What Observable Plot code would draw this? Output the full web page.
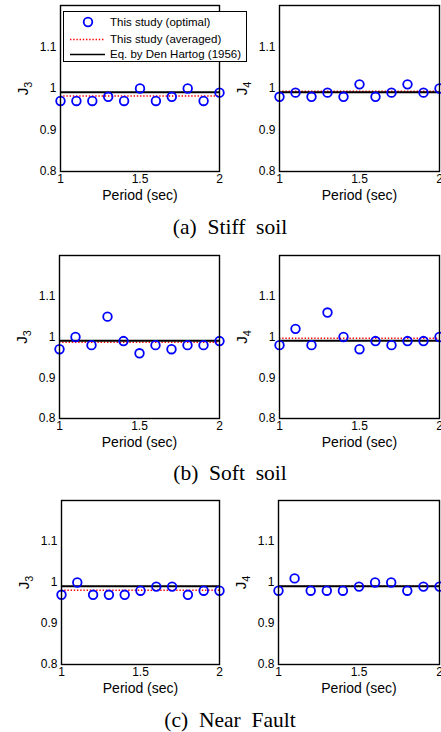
<!DOCTYPE html>
<html>
<head>
<meta charset="utf-8">
<script src="https://cdn.jsdelivr.net/npm/d3@7"></script>
<script src="https://cdn.jsdelivr.net/npm/@observablehq/plot@0.6"></script>
<style>
  html, body { margin: 0; padding: 0; background: #fff; }
  #root { position: relative; width: 441px; height: 732px; overflow: hidden; background: #fff; }
  .panel { position: absolute; }
  .caption { position: absolute; font-family: "Liberation Serif", "Times New Roman", serif; font-size: 21.5px; white-space: pre; transform: translate(-50%, -50%); color: #000; }
  #legend { position: absolute; left: 63px; top: 11px; width: 184px; height: 51px; box-sizing: border-box; border: 1.3px solid #000; background: #fff; z-index: 10; font-family: "Liberation Sans", Arial, sans-serif; font-size: 11.5px; }
  #legend .row { position: absolute; left: 0; height: 16px; width: 100%; }
  #legend .row svg { position: absolute; left: 5px; top: 0; }
  #legend .row span { position: absolute; left: 46px; top: 0; line-height: 16px; white-space: pre; }
</style>
</head>
<body>
<div id="root"></div>
<script>
// ---- data ----
const periods = [1.0, 1.1, 1.2, 1.3, 1.4, 1.5, 1.6, 1.7, 1.8, 1.9, 2.0];
const stiffJ3 = [0.97, 0.97, 0.97, 0.98, 0.97, 1.00, 0.97, 0.98, 1.00, 0.97, 0.99];
const stiffJ4 = [0.98, 0.99, 0.98, 0.99, 0.98, 1.01, 0.98, 0.99, 1.01, 0.99, 1.00];
const softJ3  = [0.97, 1.00, 0.98, 1.05, 0.99, 0.96, 0.98, 0.97, 0.98, 0.98, 0.99];
const softJ4  = [0.98, 1.02, 0.98, 1.06, 1.00, 0.97, 0.99, 0.98, 0.99, 0.99, 1.00];
const nearJ3  = [0.97, 1.00, 0.97, 0.97, 0.97, 0.98, 0.99, 0.99, 0.97, 0.98, 0.98];
const nearJ4  = [0.98, 1.01, 0.98, 0.98, 0.98, 0.99, 1.00, 1.00, 0.98, 0.99, 0.99];
const averagedJ3 = [0.982, 0.987, 0.981];   // stiff, soft, near fault
const averagedJ4 = [0.993, 0.997, 0.991];
const denHartog = 0.991;
const xTicks = [1, 1.5, 2];
const yTicks = [0.8, 0.9, 1, 1.1];
const xDomain = [1, 2];
const yDomain = [0.8, 1.2];
const xLabel = "Period (sec)";
const legendLabels = ["This study (optimal)", "This study (averaged)", "Eq. by Den Hartog (1956)"];
const captions = ["(a)  Stiff  soil", "(b)  Soft  soil", "(c)  Near  Fault"];

// ---- layout ----
const root = document.getElementById("root");
const rows = [
  {top: 0,   height: 205, mlL: 60, mlR: 59, capY: 226.7, j3: stiffJ3, j4: stiffJ4},
  {top: 250, height: 202, mlL: 59, mlR: 59, capY: 473.3, j3: softJ3,  j4: softJ4},
  {top: 495, height: 203, mlL: 61, mlR: 58, capY: 720,   j3: nearJ3,  j4: nearJ4}
];

function fmt(d) { return String(+d.toFixed(2)); }

function panel(values, avg, sub, marginLeft, height) {
  const data = periods.map((p, i) => ({p, v: values[i]}));
  const svg = Plot.plot({
    width: 221, height,
    marginLeft, marginRight: 2, marginTop: 5, marginBottom: 34,
    style: {fontFamily: "Liberation Sans, Arial, sans-serif", fontSize: "12px", overflow: "visible", background: "transparent", color: "#000"},
    x: {domain: xDomain, ticks: xTicks, tickFormat: fmt, tickSize: 0, tickPadding: 3, label: null},
    y: {domain: yDomain, ticks: yTicks, tickFormat: fmt, tickSize: 0, tickPadding: 4, label: null},
    marks: [
      Plot.ruleY([avg], {stroke: "#ff0000", strokeWidth: 1.6, strokeDasharray: "1.4,1.8"}),
      Plot.ruleY([denHartog], {stroke: "#000", strokeWidth: 2}),
      Plot.dot(data, {x: "p", y: "v", r: 4.3, stroke: "#0000ff", strokeWidth: 1.8, fill: "none"}),
      Plot.frame({stroke: "#000", strokeWidth: 1.4}),
      Plot.text([xLabel], {frameAnchor: "bottom", dy: 24, lineAnchor: "middle", textAnchor: "middle", fontSize: 14, fill: "#000"}),
      Plot.text(["J"], {frameAnchor: "left", dx: -37, rotate: -90, lineAnchor: "middle", textAnchor: "middle", fontSize: 15, fill: "#000", className: "ylab"})
    ]
  });
  d3.select(svg).selectAll(".ylab text").each(function() {
    const t = d3.select(this);
    t.text("J");
    t.append("tspan").attr("font-size", "0.72em").attr("dy", "0.35em").text(sub);
  });
  return svg;
}

rows.forEach((r, i) => {
  const left = panel(r.j3, averagedJ3[i], "3", r.mlL, r.height);
  left.classList.add("panel");
  left.style.left = "0px"; left.style.top = r.top + "px";
  root.appendChild(left);
  const right = panel(r.j4, averagedJ4[i], "4", r.mlR, r.height);
  right.classList.add("panel");
  right.style.left = "220px"; right.style.top = r.top + "px";
  root.appendChild(right);
  const cap = document.createElement("div");
  cap.className = "caption";
  cap.textContent = captions[i];
  cap.style.left = "230px"; cap.style.top = r.capY + "px";
  root.appendChild(cap);
});

// ---- legend ----
const legend = document.createElement("div");
legend.id = "legend";
const rowTops = [2, 18.5, 33.5];
const ns = "http://www.w3.org/2000/svg";
legendLabels.forEach((lab, i) => {
  const row = document.createElement("div");
  row.className = "row";
  row.style.top = rowTops[i] + "px";
  const s = document.createElementNS(ns, "svg");
  s.setAttribute("width", 38); s.setAttribute("height", 16);
  let el;
  if (i === 0) {
    el = document.createElementNS(ns, "circle");
    el.setAttribute("cx", 19); el.setAttribute("cy", 8); el.setAttribute("r", 4.3);
    el.setAttribute("fill", "none"); el.setAttribute("stroke", "#0000ff"); el.setAttribute("stroke-width", 1.8);
  } else {
    el = document.createElementNS(ns, "line");
    el.setAttribute("x1", 1); el.setAttribute("x2", 36); el.setAttribute("y1", 8.5); el.setAttribute("y2", 8.5);
    if (i === 1) { el.setAttribute("stroke", "#ff0000"); el.setAttribute("stroke-width", 1.6); el.setAttribute("stroke-dasharray", "1.4,1.8"); }
    else { el.setAttribute("stroke", "#000"); el.setAttribute("stroke-width", 1.6); }
  }
  s.appendChild(el);
  row.appendChild(s);
  const sp = document.createElement("span");
  sp.textContent = lab;
  row.appendChild(sp);
  legend.appendChild(row);
});
root.appendChild(legend);
</script>
</body>
</html>
